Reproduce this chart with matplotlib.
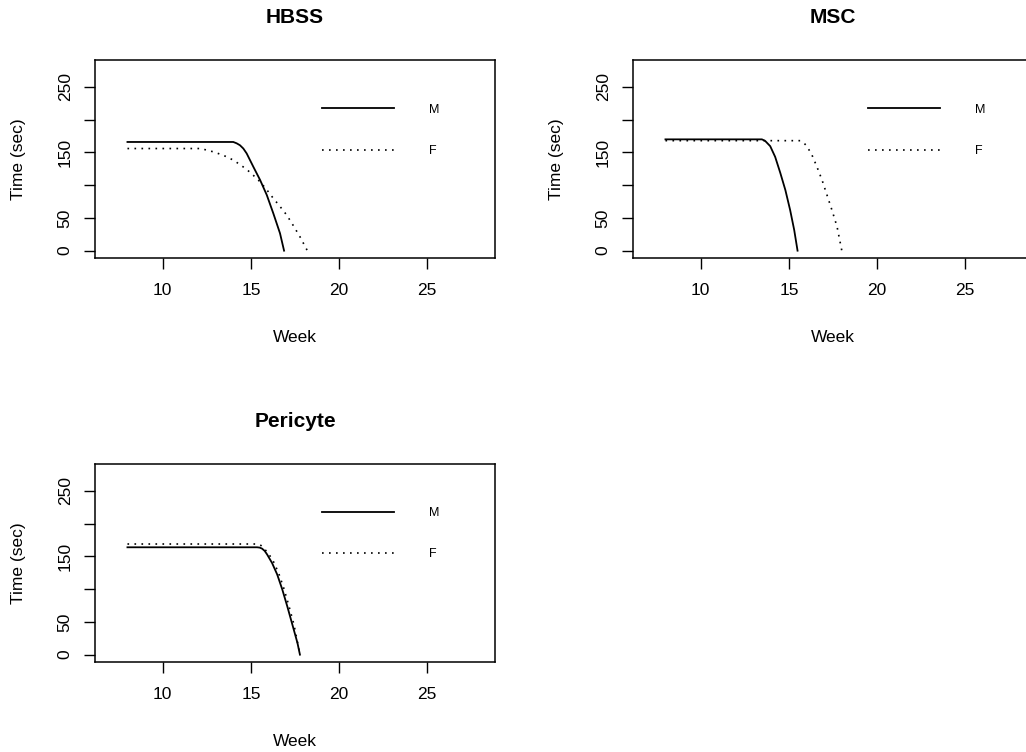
import matplotlib
matplotlib.use('Agg')
import matplotlib.pyplot as plt

plt.rcParams['font.family'] = ['Liberation Sans', 'DejaVu Sans']

W, H = 1026, 752

# values
hbss_m_week = [8, 14.0, 14.19, 14.38, 14.57, 14.76, 15.14, 15.52, 15.90, 16.27, 16.65, 16.88]
hbss_m_time = [166, 166, 164, 161, 156, 148.5, 128, 108, 85, 57, 26.5, 0]
hbss_f_week = [8, 12.2, 12.49, 12.87, 13.25, 13.62, 14.0, 14.38, 14.76, 15.14, 15.52, 15.9,
               16.27, 16.65, 17.03, 17.4, 17.78, 18.2]
hbss_f_time = [156, 156, 153.5, 151, 147.4, 143.5, 138.3, 131.5, 124.1, 115, 105.2, 93,
               79.9, 67.5, 54.4, 38.5, 21.3, 0]

msc_m_week = [8, 13.47, 13.65, 13.94, 14.22, 14.51, 14.80, 15.07, 15.30, 15.49]
msc_m_time = [170, 170, 167.7, 159.6, 143.3, 118.9, 92.5, 62, 31.6, 0]
msc_f_week = [8, 15.64, 15.83, 16.02, 16.31, 16.59, 16.88, 17.16, 17.44, 17.73, 18.0]
msc_f_time = [168, 168, 165, 159.6, 145.9, 128, 107.8, 84.9, 62, 36.6, 0]

peri_m_week = [8, 15.35, 15.5, 15.63, 15.78, 15.92, 16.20, 16.49, 16.78, 17.06, 17.35, 17.64, 17.78]
peri_m_time = [164, 164, 163.5, 162, 158.5, 153, 140, 122.5, 99.5, 74, 46, 17.8, 0]
peri_f_week = [8, 15.4, 15.56, 15.72, 16.01, 16.30, 16.58, 16.87, 17.15, 17.44, 17.78]
peri_f_time = [169, 169, 167, 163, 154, 141, 124, 101, 75, 46, 0]

titles = ['HBSS', 'MSC', 'Pericyte']
series = [
    (hbss_m_week, hbss_m_time, hbss_f_week, hbss_f_time),
    (msc_m_week, msc_m_time, msc_f_week, msc_f_time),
    (peri_m_week, peri_m_time, peri_f_week, peri_f_time),
]
sex_labels = ['M', 'F']
x_ticks = [10, 15, 20, 25]
y_ticks = [0, 50, 100, 150, 200, 250]
y_tick_labels = ['0', '50', '', '150', '', '250']

# plot boxes in pixels: left, top, right, bottom
boxes = [(95, 60, 495, 258), (633, 60, 1033, 258), (95, 464, 495, 662)]
legend_x = [0.567, 0.5875, 0.567]
legend_y = [0.645, 0.645, 0.648]

fig = plt.figure(figsize=(W / 100, H / 100), dpi=100)

for i, (l, t, r, b) in enumerate(boxes):
    ax = fig.add_axes([l / W, 1 - b / H, (r - l) / W, (b - t) / H])
    mw, mt, fw, ft = series[i]
    ax.plot(mw, mt, color='black', lw=1.3, label=sex_labels[0])
    ax.plot(fw, ft, color='black', lw=1.2, dashes=(1, 3.2), label=sex_labels[1])
    ax.set_xlim(6.16, 28.84)
    ax.set_ylim(-11.2, 291.2)
    ax.set_xticks(x_ticks)
    ax.set_yticks(y_ticks)
    ax.set_yticklabels(y_tick_labels, rotation=90, va='center')
    ax.tick_params(length=8, width=1.0, labelsize=12.5, color='black')
    ax.tick_params(axis='x', pad=10)
    ax.tick_params(axis='y', pad=8)
    for s in ax.spines.values():
        s.set_linewidth(1.1)
    ax.set_title(titles[i], fontsize=15, fontweight='bold', pad=26.5)
    ax.set_xlabel('Week', fontsize=12.5, va='center')
    ax.xaxis.set_label_coords(0.5, -79 / (b - t))
    ax.set_ylabel('Time (sec)', fontsize=12.5, va='center')
    ax.yaxis.set_label_coords(-77 / (r - l), 0.5)
    ax.legend(loc='center left', bbox_to_anchor=(legend_x[i], legend_y[i]),
              frameon=False, fontsize=9, borderpad=0, borderaxespad=0,
              handlelength=5.76, handletextpad=2.8, labelspacing=2.35)

fig.savefig('out.png', dpi=100)
